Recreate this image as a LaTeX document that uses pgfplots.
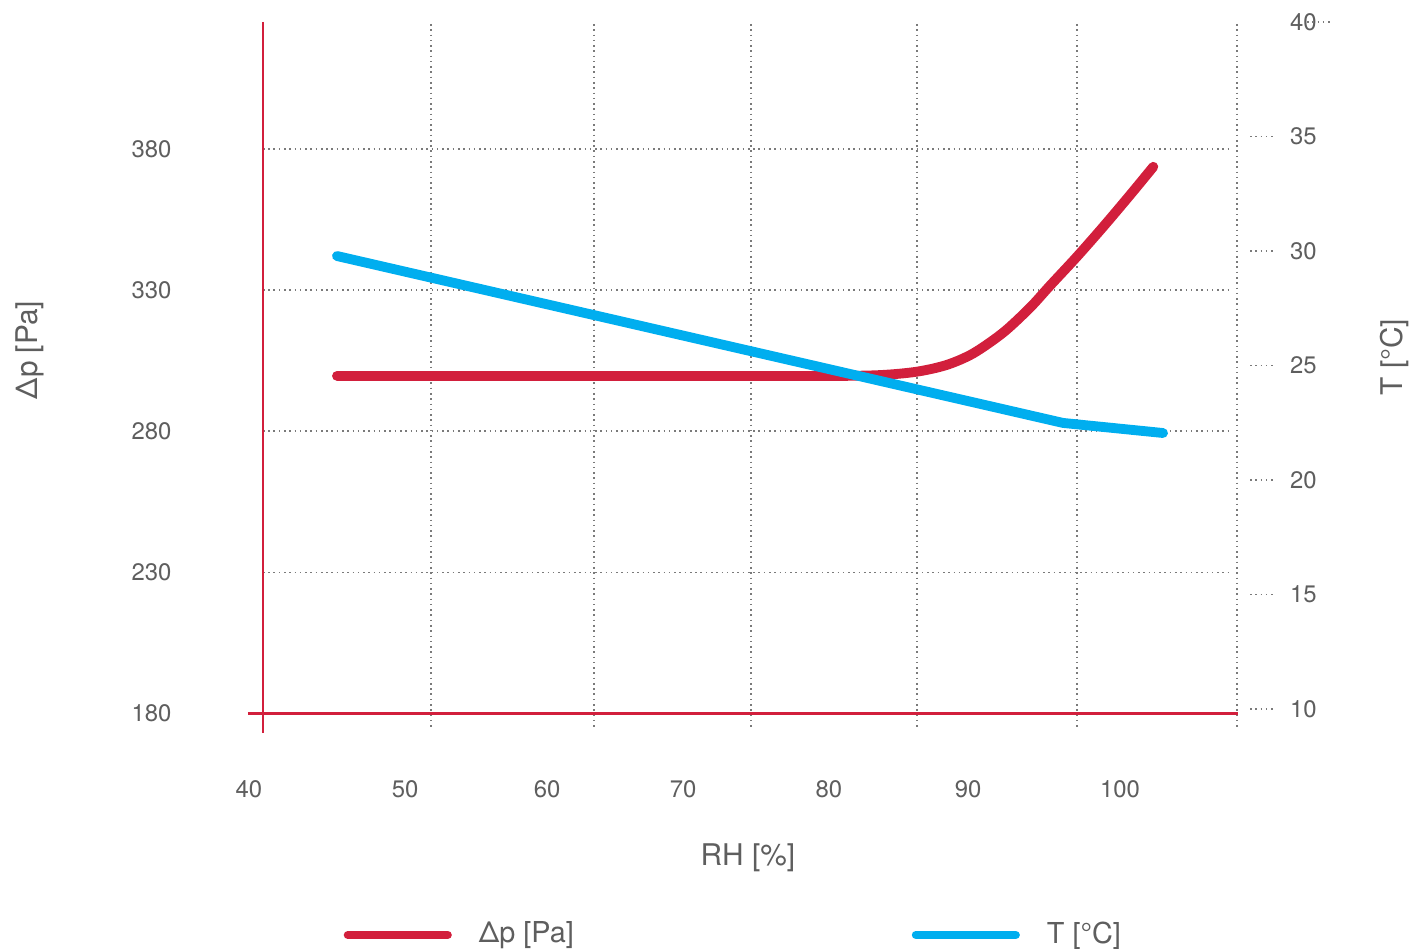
\documentclass[border=0pt]{standalone}
\usepackage{pgfplots}
\pgfplotsset{compat=1.18}
\usepackage{pgfplotstable}
\usepackage{fontspec}
\setmainfont{TeX Gyre Heros}
\definecolor{dpred}{HTML}{D21F3C}
\definecolor{tblue}{HTML}{00AEEF}
\definecolor{txt}{HTML}{5E5E5E}
\definecolor{gridc}{HTML}{7A7A7A}
\pgfplotstableread{
rh dp
46.06 299.6
70.00 299.6
80.02 299.6
83.47 299.9
86.00 301.1
88.06 303.5
89.89 307.6
91.96 315.0
93.80 323.8
95.18 331.6
97.02 341.8
98.85 352.5
100.69 363.7
102.29 373.7
}\dpdata
\pgfplotstableread{
rh t
46.06 29.78
96.07 22.49
102.96 22.05
}\tdata
\tikzset{gdot/.style={gridc, line width=0.45pt, dash pattern=on 0.45pt off 1.05pt}}
\begin{document}
\begin{tikzpicture}
\path[use as bounding box] (0,0) rectangle (14.13cm,9.49cm);
\pgfplotsset{
  base/.style={
    at={(2.49cm,2.355cm)}, anchor=south west,
    scale only axis, width=9.91cm, height=6.915cm,
    xmin=40, xmax=108.26, clip=false,
    axis line style={draw=none}, major tick length=0pt,
    tick label style={font=\fontsize{6.8}{8}\selectfont, text=txt},
    /pgf/number format/assume math mode=true,
    label style={font=\fontsize{8.5}{10}\selectfont, text=txt},
  }
}
\begin{axis}[base, ymin=180, ymax=425,
  xtick={40,50.75,60.53,69.90,79.95,89.53,100},
  xticklabels={40,50,60,70,80,90,100},
  xticklabel style={anchor=center, yshift=-0.755cm},
  ytick={180,230,280,330,380},
  yticklabel style={anchor=center, xshift=-0.975cm},
  xlabel={RH [\%]},
  xlabel style={at={(axis description cs:0.5035,-0.2080)}, anchor=center},
  ylabel={Δp [Pa]},
  ylabel style={at={(axis description cs:-0.221,0.5257)}, anchor=center},
]
% grid lines
\foreach \y in {230,280,330,380}{
  \edef\tmp{\noexpand\draw[gdot] (axis cs:40.96,\y) -- (axis cs:107.5,\y);}\tmp
}
\foreach \x in {52.54,63.77,74.58,86.02,97.04,108.06}{
  \edef\tmp{\noexpand\draw[gdot] (axis cs:\x,424.3) -- (axis cs:\x,174.9);}\tmp
}
% red axis lines
\draw[dpred, line width=0.6pt] (axis cs:39.93,180) -- (axis cs:108.13,180);
\draw[dpred, line width=0.6pt] (axis cs:40.96,425) -- (axis cs:40.96,173.1);
\addplot[dpred, line width=2.8pt, line cap=round, smooth, tension=0.5] table[x=rh, y=dp] {\dpdata};
\end{axis}
\begin{axis}[base, ymin=9.8, ymax=40,
  xtick=\empty,
  ytick={10,15,20,25,30,35,40},
  yticklabel pos=right,
  yticklabel style={anchor=center, xshift=0.635cm},
  ylabel={T [°C]},
  ylabel style={at={(axis description cs:1.1564,0.5155)}, anchor=center},
  legend columns=2,
  legend cell align=left,
  legend image code/.code={\draw[#1, line width=2.3pt, line cap=round] (0cm,0cm) -- (1.0cm,0cm);},
  legend style={draw=none, fill=none, inner sep=0pt, at={(axis description cs:0.0949,-0.3203)}, anchor=west,
    font=\fontsize{8.2}{10}\selectfont, text=txt,
    /tikz/every odd column/.append style={column sep=0.2cm},
    /tikz/every even column/.append style={column sep=3.31cm}},
]
\foreach \v in {10,15,20,25,30,35}{
  \edef\tmp{\noexpand\draw[gdot] (axis cs:108.95,\v) -- (axis cs:110.54,\v);}\tmp
}
\draw[gdot] (axis cs:112.88,40) -- (axis cs:114.47,40);
\addlegendimage{dpred}
\addlegendentry{Δp [Pa]}
\addplot[tblue, line width=2.8pt, line cap=round] table[x=rh, y=t] {\tdata};
\addlegendentry{T [°C]}
\end{axis}
\end{tikzpicture}
\end{document}
